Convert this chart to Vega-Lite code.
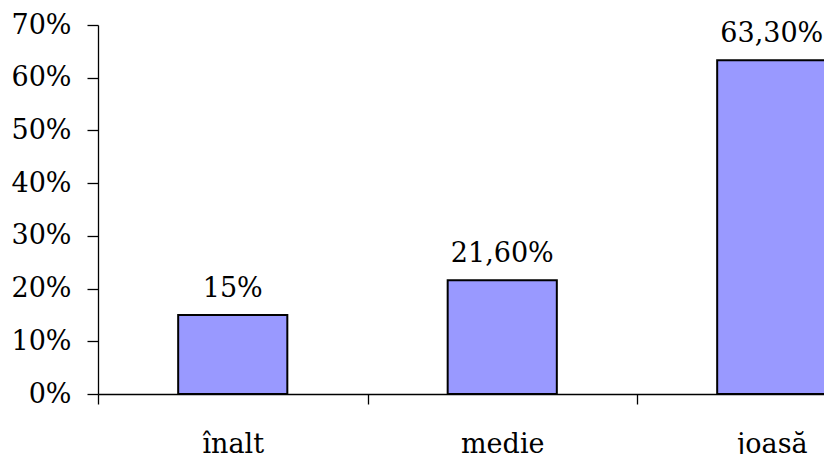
{
  "$schema": "https://vega.github.io/schema/vega-lite/v6.json",
  "autosize": "none",
  "width": 726,
  "height": 369,
  "padding": {"left": 98, "top": 25, "right": 0, "bottom": 60},
  "background": "white",
  "config": {"view": {"stroke": null}, "font": "DejaVu Serif"},
  "data": {"values": [
    {"nivel": "înalt", "value": 0.15, "label": "15%"},
    {"nivel": "medie", "value": 0.216, "label": "21,60%"},
    {"nivel": "joasă", "value": 0.633, "label": "63,30%"}
  ]},
  "encoding": {
    "x": {"field": "nivel", "type": "nominal", "sort": null,
      "scale": {"range": [0, 808.5], "paddingInner": 0, "paddingOuter": 0},
      "axis": {"title": null, "labelAngle": 0, "tickBand": "extent", "tickSize": 10, "tickColor": "black", "domainColor": "black", "tickWidth": 1.3, "domainWidth": 1.3,
        "labelFont": "DejaVu Serif", "labelFontSize": 27, "labelColor": "black", "labelBaseline": "alphabetic", "labelPadding": 48}},
    "y": {"field": "value", "type": "quantitative",
      "scale": {"domain": [0, 0.7], "nice": false},
      "axis": {"title": null, "format": ".0%", "values": [0, 0.1, 0.2, 0.3, 0.4, 0.5, 0.6, 0.7], "grid": false, "tickSize": 11, "tickColor": "black", "domainColor": "black", "tickWidth": 1.3, "domainWidth": 1.3,
        "labelFont": "DejaVu Serif", "labelFontSize": 27, "labelColor": "black", "labelPadding": 16}}
  },
  "layer": [
    {"mark": {"type": "bar", "width": {"band": 0.405}, "fill": "#9999FF", "stroke": "black", "strokeWidth": 2}},
    {"mark": {"type": "text", "baseline": "alphabetic", "dy": -18, "font": "DejaVu Serif", "fontSize": 27, "color": "black"},
      "encoding": {"text": {"field": "label"}}}
  ]
}
